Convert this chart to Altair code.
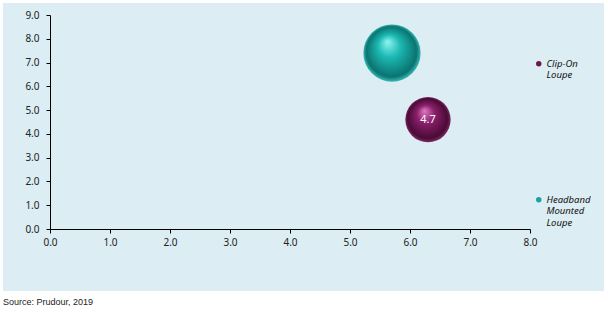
import altair as alt
import pandas as pd

series = ["Clip-On Loupe", "Headband Mounted Loupe"]
x_vals = [6.3, 5.7]
y_vals = [4.6, 7.4]
sizes = [4.7, 7.5]
labels = ["4.7", ""]
colors = ["#6e1452", "#17a3a0"]
x_ticks = [0, 1, 2, 3, 4, 5, 6, 7, 8]
y_ticks = [0, 1, 2, 3, 4, 5, 6, 7, 8, 9]
source_text = "Source: Prudour, 2019"

df = pd.DataFrame({"series": series, "x": x_vals, "y": y_vals, "size": sizes, "label": labels})

W, H = 480, 214
PL, PT = 50, 15

def grad(hi, body, dark, rim):
    return {
        "gradient": "radial",
        "x1": 0.42, "y1": 0.3, "r1": 0.0,
        "x2": 0.5, "y2": 0.5, "r2": 0.5,
        "stops": [
            {"offset": 0.0, "color": hi},
            {"offset": 0.4, "color": body},
            {"offset": 0.88, "color": dark},
            {"offset": 1.0, "color": rim},
        ],
    }

xs = alt.Scale(domain=[0, 8], nice=False, zero=False)
ys = alt.Scale(domain=[0, 9], nice=False, zero=False)
ss = alt.Scale(type="linear", domain=[0, 7.5], range=[0, 3277])

ax_common = dict(domainColor="#000000", tickColor="#000000", tickSize=4,
                 labelColor="#222222", labelFont="Noto Sans", labelFontSize=10,
                 grid=False, title=None, zindex=1, format=".1f", labelFlush=False)

X = alt.X("x:Q", scale=xs, axis=alt.Axis(values=x_ticks, labelPadding=4, **ax_common))
Y = alt.Y("y:Q", scale=ys, axis=alt.Axis(values=y_ticks, labelPadding=7, **ax_common))

bg = alt.Chart(alt.Data(values=[{}])).mark_rect(color="#dcedf3").encode(
    x=alt.value(3 - PL), x2=alt.value(604 - PL),
    y=alt.value(3 - PT), y2=alt.value(291 - PT),
)

legend_layer = alt.Chart(df).mark_circle(opacity=0).encode(
    x=X, y=Y,
    color=alt.Color("series:N",
                    scale=alt.Scale(domain=series, range=colors),
                    legend=alt.Legend(
                        title=None, orient="none", legendX=484, legendY=44,
                        direction="vertical", symbolType="circle", symbolSize=30,
                        symbolOpacity=1, symbolStrokeWidth=0,
                        labelFont="Noto Sans", labelFontStyle="italic", labelFontSize=9.5,
                        labelColor="#111111", labelLimit=200, labelOffset=3,
                        labelExpr="datum.label == 'Clip-On Loupe' ? ['Clip-On', 'Loupe'] : ['Headband', 'Mounted', 'Loupe']",
                        rowPadding=114, padding=0,
                    )),
)

teal = alt.Chart(df).transform_filter(alt.datum.series == series[1]).mark_circle(
    fill=grad("#8ff6f0", "#1cb8b3", "#0a7370", "#39b9b6"), opacity=1, strokeWidth=0
).encode(x=X, y=Y, size=alt.Size("size:Q", scale=ss, legend=None))

purple = alt.Chart(df).transform_filter(alt.datum.series == series[0]).mark_circle(
    fill=grad("#e07bc0", "#8a1f6b", "#4a0a36", "#7a2a62"), opacity=1, strokeWidth=0
).encode(x=X, y=Y, size=alt.Size("size:Q", scale=ss, legend=None))

txt = alt.Chart(df).transform_filter(alt.datum.label != "").mark_text(
    color="white", font="Noto Sans", fontSize=11
).encode(x=X, y=Y, text="label:N")

chart = alt.layer(bg, legend_layer, teal, purple, txt).properties(
    width=W, height=H,
    autosize=alt.AutoSizeParams(type="none"),
    padding={"left": PL, "top": PT, "right": 608 - PL - W, "bottom": 312 - PT - H},
    title=alt.Title(source_text, orient="bottom", anchor="start", dx=0, offset=7,
                    fontSize=9, font="Liberation Sans", fontWeight="normal", color="#222222"),
    background="white",
).configure_view(stroke=None)

chart.save("out.html", embed_options={"renderer": "svg", "actions": False})
